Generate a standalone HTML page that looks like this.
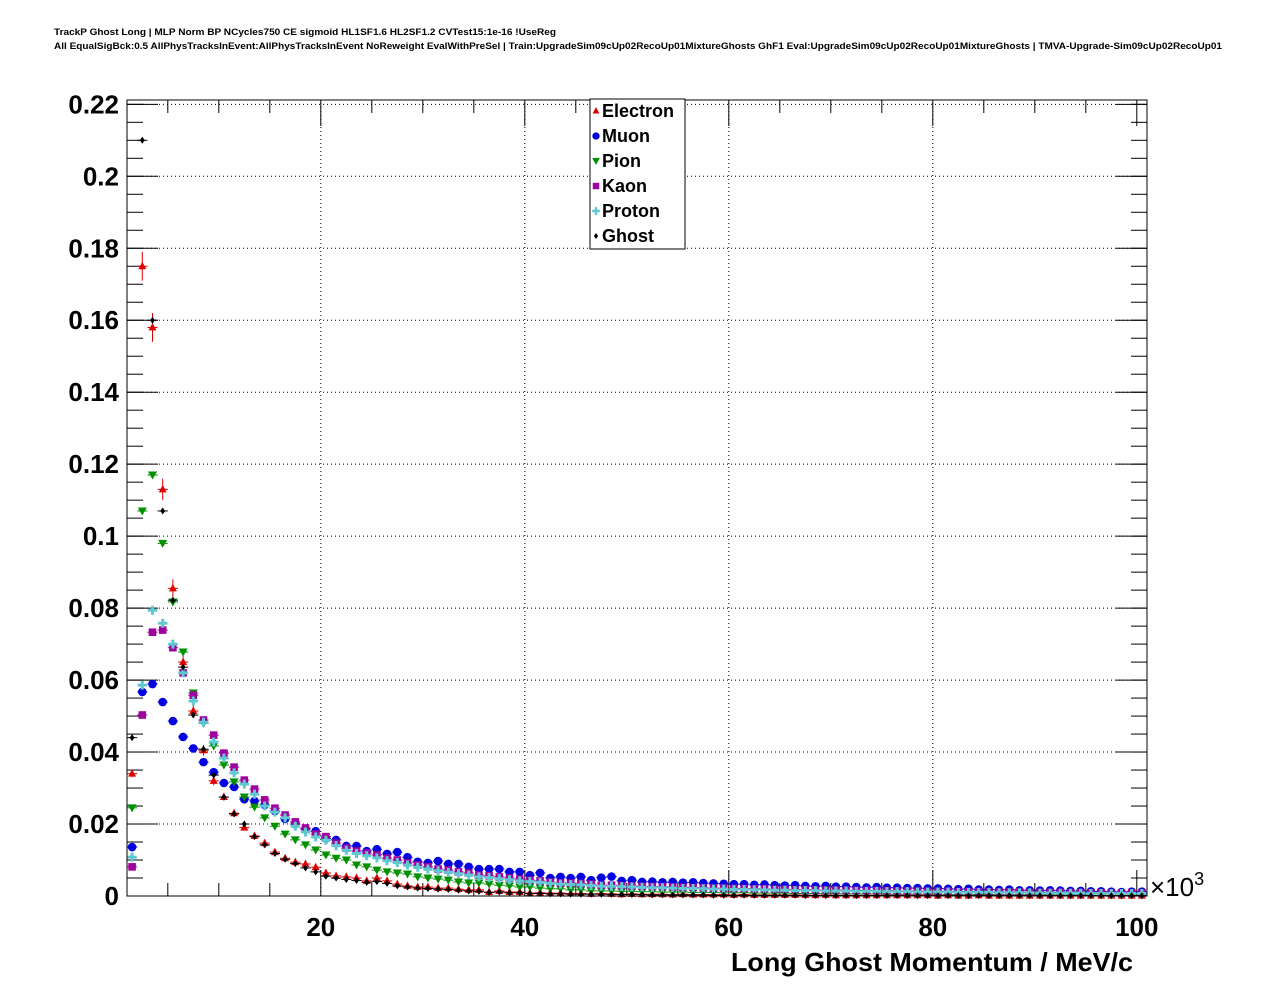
<!DOCTYPE html>
<html><head><meta charset="utf-8"><style>
html,body{margin:0;padding:0;background:#fff;}
svg{display:block;font-family:"Liberation Sans",sans-serif;}
</style></head><body>
<svg id="chart" width="1276" height="996" viewBox="0 0 1276 996">
<rect x="0" y="0" width="1276" height="996" fill="#fff"/>
<text x="54" y="35" font-size="9" font-weight="bold" textLength="502" lengthAdjust="spacingAndGlyphs">TrackP Ghost Long | MLP Norm BP NCycles750 CE sigmoid HL1SF1.6 HL2SF1.2 CVTest15:1e-16 !UseReg</text>
<text x="54" y="49" font-size="9" font-weight="bold" textLength="1168" lengthAdjust="spacingAndGlyphs">All EqualSigBck:0.5 AllPhysTracksInEvent:AllPhysTracksInEvent NoReweight EvalWithPreSel | Train:UpgradeSim09cUp02RecoUp01MixtureGhosts GhF1 Eval:UpgradeSim09cUp02RecoUp01MixtureGhosts | TMVA-Upgrade-Sim09cUp02RecoUp01</text>
<g id="grid"></g>
<g id="axes"></g>
<g id="marks"></g>
<rect x="127" y="100" width="1020" height="796" fill="none" stroke="#000" stroke-width="1"/>
<text x="1133" y="971" font-size="26" font-weight="bold" text-anchor="end" textLength="402" lengthAdjust="spacingAndGlyphs">Long Ghost Momentum / MeV/c</text>
<text x="1150" y="896" font-size="26">×10<tspan font-size="18" dy="-11">3</tspan></text>
<g id="legend">
<rect x="590" y="99" width="95" height="150" fill="#fff" stroke="#000" stroke-width="1"/>
</g>
</svg>
<script>
const categories = ["Electron","Muon","Pion","Kaon","Proton","Ghost"];
const electron = [0.034,0.175,0.158,0.113,0.0855,0.065,0.0514,0.0405,0.032,0.0275,
0.023,0.019,0.0167,0.0147,0.0122,0.0105,0.0094,0.0089,0.008,0.0064,
0.0056,0.0053,0.005,0.0042,0.005,0.0042,0.0033,0.0028,0.0025,0.0025,
0.0022,0.0022,0.0019,0.0017,0.0017,0.0011,0.0014,0.0011,0.0011,0.0008,
0.0009,0.0008,0.0008,0.0007,0.0007,0.0006,0.0007,0.0006,0.0005,0.0006,
0.0005,0.0005,0.0005,0.0004,0.0005,0.0004,0.0004,0.0004,0.0004,0.0003,
0.0004,0.0003,0.0003,0.0003,0.0003,0.0003,0.0003,0.0002,0.0003,0.0002,
0.0002,0.0002,0.0002,0.0002,0.0002,0.0002,0.0002,0.0002,0.0002,0.0001,
0.0002,0.0001,0.0001,0.0002,0.0001,0.0001,0.0001,0.0001,0.0001,0.0001,
0.0001,0.0001,0.0001,0.0001,0.0001,0.0001,0.0001,0.0001,0.0001,0.0001];
const muon = [0.0136,0.0567,0.0589,0.0539,0.0486,0.0442,0.041,0.0372,0.0344,0.0314,
0.0303,0.0269,0.0264,0.0253,0.0236,0.0214,0.020,0.0186,0.018,0.016,
0.0156,0.0139,0.0139,0.0125,0.013,0.0117,0.0122,0.0108,0.0095,0.0092,
0.0097,0.0089,0.0089,0.0081,0.0075,0.0075,0.0075,0.0067,0.0067,0.0058,
0.0064,0.005,0.0053,0.005,0.0053,0.0044,0.0051,0.0054,0.0042,0.0044,
0.0039,0.004,0.0038,0.0039,0.0037,0.0038,0.0036,0.0035,0.0034,0.0033,
0.0033,0.0031,0.0032,0.003,0.0029,0.003,0.0028,0.0027,0.0028,0.0026,
0.0026,0.0025,0.0024,0.0025,0.0023,0.0023,0.0022,0.0022,0.0021,0.0021,
0.0020,0.0019,0.0020,0.0018,0.0018,0.0017,0.0018,0.0016,0.0016,0.0015,
0.0016,0.0015,0.0014,0.0014,0.0013,0.0013,0.0012,0.0011,0.0012,0.0012];
const pion = [0.0245,0.107,0.117,0.098,0.0817,0.0678,0.0564,0.048,0.0417,0.0364,
0.0317,0.0275,0.0247,0.0217,0.0194,0.0172,0.0156,0.0142,0.0128,0.0114,
0.0105,0.010,0.0086,0.0081,0.0072,0.0067,0.0064,0.0061,0.0053,0.005,
0.0047,0.0044,0.0039,0.0036,0.0036,0.0033,0.003,0.0028,0.0025,0.0025,
0.0022,0.002,0.002,0.0017,0.0017,0.0014,0.0014,0.0014,0.0013,0.0013,
0.0012,0.0012,0.0011,0.0011,0.0011,0.0010,0.0010,0.0010,0.0009,0.0009,
0.0009,0.0008,0.0008,0.0008,0.0008,0.0007,0.0007,0.0007,0.0007,0.0006,
0.0006,0.0006,0.0006,0.0006,0.0005,0.0005,0.0005,0.0005,0.0005,0.0005,
0.0004,0.0004,0.0005,0.0004,0.0004,0.0004,0.0004,0.0004,0.0004,0.0004,
0.0004,0.0003,0.0003,0.0004,0.0003,0.0003,0.0003,0.0003,0.0003,0.0003];
const kaon = [0.0081,0.0503,0.0733,0.0739,0.069,0.062,0.0558,0.0489,0.0447,0.0397,
0.0358,0.0322,0.0297,0.0267,0.0244,0.0225,0.0206,0.0189,0.0172,0.0165,
0.0147,0.0133,0.0125,0.0119,0.0114,0.0105,0.010,0.0092,0.0086,0.0081,
0.0075,0.0072,0.0067,0.0064,0.0058,0.0056,0.0053,0.005,0.0047,0.0044,
0.0042,0.0039,0.0036,0.0036,0.0035,0.0033,0.003,0.0030,0.0029,0.0028,
0.0027,0.0026,0.0026,0.0025,0.0024,0.0024,0.0023,0.0022,0.0022,0.0021,
0.0021,0.0020,0.0020,0.0019,0.0019,0.0018,0.0018,0.0017,0.0017,0.0017,
0.0016,0.0016,0.0015,0.0015,0.0015,0.0014,0.0014,0.0014,0.0013,0.0013,
0.0013,0.0012,0.0012,0.0012,0.0011,0.0011,0.0011,0.0011,0.0010,0.0010,
0.0010,0.0010,0.0009,0.0009,0.0009,0.0009,0.0008,0.0008,0.0008,0.0008];
const proton = [0.0108,0.0586,0.0794,0.0758,0.070,0.062,0.0542,0.0483,0.0428,0.0383,
0.0342,0.0311,0.0283,0.0250,0.0233,0.0217,0.0194,0.0178,0.0164,0.0155,
0.014,0.0127,0.0118,0.0112,0.0106,0.0098,0.0093,0.0086,0.008,0.0075,
0.007,0.0066,0.0062,0.0058,0.0053,0.0051,0.0048,0.0045,0.0042,0.004,
0.0038,0.0035,0.0033,0.0032,0.0031,0.0029,0.0027,0.0027,0.0026,0.0025,
0.0024,0.0023,0.0023,0.0022,0.0021,0.0021,0.002,0.0019,0.0019,0.0018,
0.0018,0.0017,0.0017,0.0016,0.0016,0.0015,0.0015,0.0015,0.0014,0.0014,
0.0014,0.0013,0.0013,0.0013,0.0012,0.0012,0.0012,0.0011,0.0011,0.0011,
0.0011,0.001,0.001,0.001,0.001,0.0009,0.0009,0.0009,0.0009,0.0008,
0.0008,0.0008,0.0008,0.0008,0.0007,0.0007,0.0007,0.0007,0.0007,0.0007];
const ghost = [0.044,0.210,0.160,0.107,0.0822,0.0636,0.0503,0.0408,0.0336,0.0275,
0.0228,0.020,0.0165,0.0142,0.0118,0.0102,0.009,0.0078,0.0067,0.0055,
0.005,0.0046,0.0043,0.0038,0.0040,0.0035,0.0028,0.0025,0.0022,0.0021,
0.0019,0.0018,0.0016,0.0014,0.0013,0.0010,0.0011,0.0009,0.0009,0.0007,
0.0007,0.0006,0.0006,0.0005,0.0005,0.0005,0.0005,0.0004,0.0004,0.0004,
0.0004,0.0003,0.0003,0.0003,0.0003,0.0003,0.0003,0.0002,0.0002,0.0002,
0.0002,0.0002,0.0002,0.0002,0.0002,0.0002,0.0001,0.0002,0.0001,0.0001,
0.0001,0.0001,0.0001,0.0001,0.0001,0.0001,0.0001,0.0001,0.0001,0.0001,
0.0001,0.0001,0.0001,0.0001,0.0001,0.0001,0.0001,0.0001,0.0001,0.0001,
0.0001,0.0001,0.0001,0.0001,0.0001,0.0001,0.0001,0.0001,0.0001,0.0001];
const electronErr = [0.001,0.004,0.004,0.003,0.0025,0.002,0.0018,0.0015,0.0012,0.001];
const yTicks = [0,0.02,0.04,0.06,0.08,0.1,0.12,0.14,0.16,0.18,0.2,0.22];
const yTickLabels = ["0","0.02","0.04","0.06","0.08","0.1","0.12","0.14","0.16","0.18","0.2","0.22"];
const xTicks = [20,40,60,80,100];
const xTickLabels = ["20","40","60","80","100"];

const NS = "http://www.w3.org/2000/svg";
const X0=127, X1=1147, Y0=896, Y1=100, XMIN=1, XMAX=101, YMIN=0, YMAX=0.2212;
function xs(v){return X0+(v-XMIN)/(XMAX-XMIN)*(X1-X0);}
function ys(v){return Y0-(v-YMIN)/(YMAX-YMIN)*(Y0-Y1);}
function mk(tag,attrs,parent){const e=document.createElementNS(NS,tag);for(const k in attrs)e.setAttribute(k,attrs[k]);parent.appendChild(e);return e;}
const grid=document.getElementById('grid'), axes=document.getElementById('axes'), marks=document.getElementById('marks'), legend=document.getElementById('legend');

yTicks.forEach((t,i)=>{
  const y=ys(t);
  if(t>0){const g=mk('line',{x1:X0,x2:X1,y1:y,y2:y,stroke:'#000','stroke-width':1,'stroke-dasharray':'1,3'},grid);
  
  }
  mk('line',{x1:X0,x2:X0+31,y1:y,y2:y,stroke:'#000'},axes);
  mk('line',{x1:X1,x2:X1-31,y1:y,y2:y,stroke:'#000'},axes);
  const tx=mk('text',{x:119,y:y+9,'font-size':26,'font-weight':'bold','text-anchor':'end'},axes);
  tx.textContent=yTickLabels[i];
  
  
});
for(let v=0.005; v<0.2212; v+=0.005){
  const y=ys(v);
  mk('line',{x1:X0,x2:X0+16,y1:y,y2:y,stroke:'#000'},axes);
  mk('line',{x1:X1,x2:X1-16,y1:y,y2:y,stroke:'#000'},axes);
}
for(let v=5; v<=100; v+=5){
  const x=xs(v), L=(v%20===0)?26:13;
  mk('line',{x1:x,x2:x,y1:Y0,y2:Y0-L,stroke:'#000'},axes);
  mk('line',{x1:x,x2:x,y1:Y1,y2:Y1+L,stroke:'#000'},axes);
}
xTicks.forEach((t,i)=>{
  const x=xs(t);
  if(t<100){const g=mk('line',{x1:x,x2:x,y1:Y0,y2:Y1,stroke:'#000','stroke-width':1,'stroke-dasharray':'1,3'},grid);
  
  }
  const tx=mk('text',{x:x,y:936,'font-size':26,'font-weight':'bold','text-anchor':'middle'},axes);
  tx.textContent=xTickLabels[i];
  
  
});

function marker(kind,x,y,color,parent,s){
  s=s||1;
  if(kind==='tu') return mk('polygon',{points:`${x},${y-4.5*s} ${x-4*s},${y+3*s} ${x+4*s},${y+3*s}`,fill:color},parent);
  if(kind==='td') return mk('polygon',{points:`${x},${y+4.5*s} ${x-4.5*s},${y-3.5*s} ${x+4.5*s},${y-3.5*s}`,fill:color},parent);
  if(kind==='c') return mk('circle',{cx:x,cy:y,r:4.3*s,fill:color},parent);
  if(kind==='s') return mk('rect',{x:x-3.8*s,y:y-3.8*s,width:7.6*s,height:7.6*s,fill:color},parent);
  if(kind==='p') return mk('path',{d:`M${x-4.5*s},${y-1.5*s}h${3*s}v${-3*s}h${3*s}v${3*s}h${3*s}v${3*s}h${-3*s}v${3*s}h${-3*s}v${-3*s}h${-3*s}z`,fill:color},parent);
  if(kind==='d') return mk('polygon',{points:`${x},${y-3.5*s} ${x+2.5*s},${y} ${x},${y+3.5*s} ${x-2.5*s},${y}`,fill:color},parent);
}
const seriesList=[
  {name:'electron',data:electron,color:'#e00000',kind:'tu'},
  {name:'muon',data:muon,color:'#0000e0',kind:'c'},
  {name:'pion',data:pion,color:'#009000',kind:'td'},
  {name:'kaon',data:kaon,color:'#a000a0',kind:'s'},
  {name:'proton',data:proton,color:'#60c8d0',kind:'p'},
  {name:'ghost',data:ghost,color:'#000000',kind:'d'}
];
const bw=xs(2)-xs(1);
seriesList.forEach(sr=>{
  const g=mk('g',{},marks);
  
  
  sr.data.forEach((v,i)=>{
    const x=xs(XMIN+i+0.5), y=ys(v);
    mk('line',{x1:x-bw/2,x2:x+bw/2,y1:y,y2:y,stroke:sr.color,'stroke-width':1},g);
    if(sr.name==='electron' && i<electronErr.length){
      mk('line',{x1:x,x2:x,y1:ys(v-electronErr[i]),y2:ys(v+electronErr[i]),stroke:sr.color,'stroke-width':1},g);
    }
    const m=marker(sr.kind,x,y,sr.color,g);
    
    
  });
});
categories.forEach((c,i)=>{
  const y=111+i*25;
  const sr=seriesList[i];
  const m=marker(sr.kind,596,y,sr.color,legend,0.85);
  
  
  const t=mk('text',{x:602,y:y+6,'font-size':18,'font-weight':'bold'},legend);
  t.textContent=c;
  
  
});
</script>
</body></html>
